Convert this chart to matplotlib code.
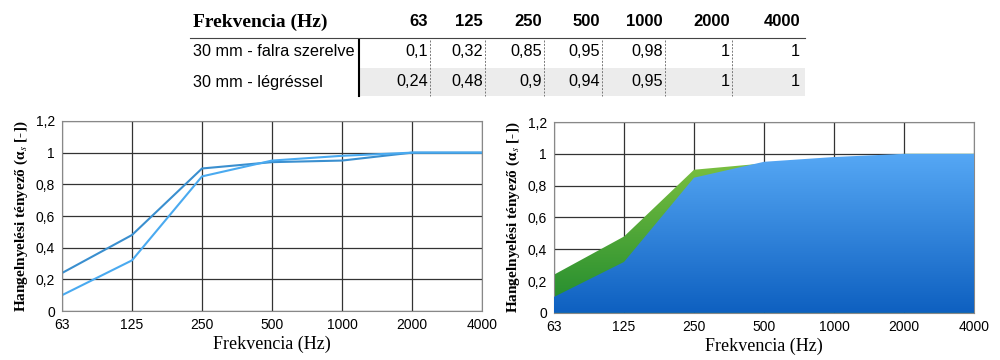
import numpy as np
import matplotlib.pyplot as plt
from matplotlib.colors import LinearSegmentedColormap
from matplotlib.patches import PathPatch
from matplotlib.lines import Line2D
from matplotlib.patches import Rectangle

plt.rcParams['font.family'] = ['Liberation Sans', 'DejaVu Sans']
plt.rcParams['mathtext.fontset'] = 'stix'

# data
freqs = ["63", "125", "250", "500", "1000", "2000", "4000"]
falra = [0.1, 0.32, 0.85, 0.95, 0.98, 1, 1]
legres = [0.24, 0.48, 0.9, 0.94, 0.95, 1, 1]
row_names = ["30 mm - falra szerelve", "30 mm - légréssel"]
yticks = [0, 0.2, 0.4, 0.6, 0.8, 1, 1.2]
ytick_labels = ["0", "0,2", "0,4", "0,6", "0,8", "1", "1,2"]

def fmt(v):
    return ("%g" % v).replace(".", ",")

fig = plt.figure(figsize=(10, 3.6), dpi=100)

# ---- table on top ----
col_right = [0.428, 0.483, 0.542, 0.600, 0.663, 0.730, 0.800]
fig.text(0.193, 1 - 22 / 360, "Frekvencia (Hz)", family="Liberation Serif",
         fontweight="bold", fontsize=14, va="center")
for x, f in zip(col_right, freqs):
    fig.text(x, 1 - 22 / 360, f, ha="right", va="center", fontweight="bold", fontsize=12)
fig.add_artist(Line2D([0.19, 0.805], [1 - 38 / 360] * 2, color="#444", lw=0.8))
fig.add_artist(Rectangle((0.36, 1 - 96 / 360), 0.445, 28 / 360, color="#ececec", lw=0, zorder=0))
fig.add_artist(Line2D([0.359, 0.359], [1 - 40 / 360, 1 - 96 / 360], color="black", lw=1.5))
row_y = [1 - 51 / 360, 1 - 82 / 360]
for ry, name, vals in zip(row_y, row_names, [falra, legres]):
    fig.text(0.193, ry, name, va="center", fontsize=11.7)
    for x, v in zip(col_right, vals):
        fig.text(x, ry, fmt(v), ha="right", va="center", fontsize=11.7)
for x in col_right[:-1]:
    fig.add_artist(Line2D([x + 0.002] * 2, [1 - 40 / 360, 1 - 96 / 360],
                          color="#777", lw=0.7, ls=(0, (2, 1.5))))

xpos = np.arange(len(freqs))

def style(ax):
    ax.set_xlim(0, len(freqs) - 1)
    ax.set_ylim(0, 1.2)
    ax.set_xticks(xpos)
    ax.set_xticklabels(freqs, fontsize=10)
    ax.set_yticks(yticks)
    ax.set_yticklabels(ytick_labels, fontsize=10)
    ax.tick_params(length=0, pad=5)
    ax.grid(True, color="#333", lw=0.9)
    ax.set_axisbelow(True)
    for s in ax.spines.values():
        s.set_color("#888")
    ax.set_xlabel("Frekvencia (Hz)", family="Liberation Serif", fontsize=13, labelpad=3)
    ax.set_ylabel("Hangelnyelési tényező (α$_{s}$ [-])", family="Liberation Serif",
                  fontweight="bold", fontsize=11, labelpad=4)

# ---- left: lines ----
ax1 = fig.add_axes([0.062, 0.136, 0.42, 0.528])
style(ax1)
ax1.plot(xpos, legres, color="#3a8fcf", lw=1.5)
ax1.plot(xpos, falra, color="#4aaaf0", lw=1.5)

# ---- right: gradient areas ----
ax2 = fig.add_axes([0.554, 0.131, 0.42, 0.53])
style(ax2)

def grad_fill(ax, y, c_top, c_bot, z):
    poly = ax.fill_between(xpos, 0, y, color="none", lw=0)
    cmap = LinearSegmentedColormap.from_list("g", [c_bot, c_top])
    grad = np.linspace(0, 1, 256).reshape(-1, 1)
    im = ax.imshow(grad, cmap=cmap, aspect="auto", origin="lower",
                   extent=[0, len(freqs) - 1, 0, 1.0], zorder=z)
    patch = PathPatch(poly.get_paths()[0], transform=ax.transData,
                      facecolor="none", edgecolor="none")
    ax.add_patch(patch)
    im.set_clip_path(patch)

grad_fill(ax2, legres, "#80c341", "#1f8a2e", 2)
grad_fill(ax2, falra, "#56a8f5", "#0e60c0", 3)
ax2.set_xlim(0, len(freqs) - 1)
ax2.set_ylim(0, 1.2)

fig.savefig("out.png", dpi=100)
